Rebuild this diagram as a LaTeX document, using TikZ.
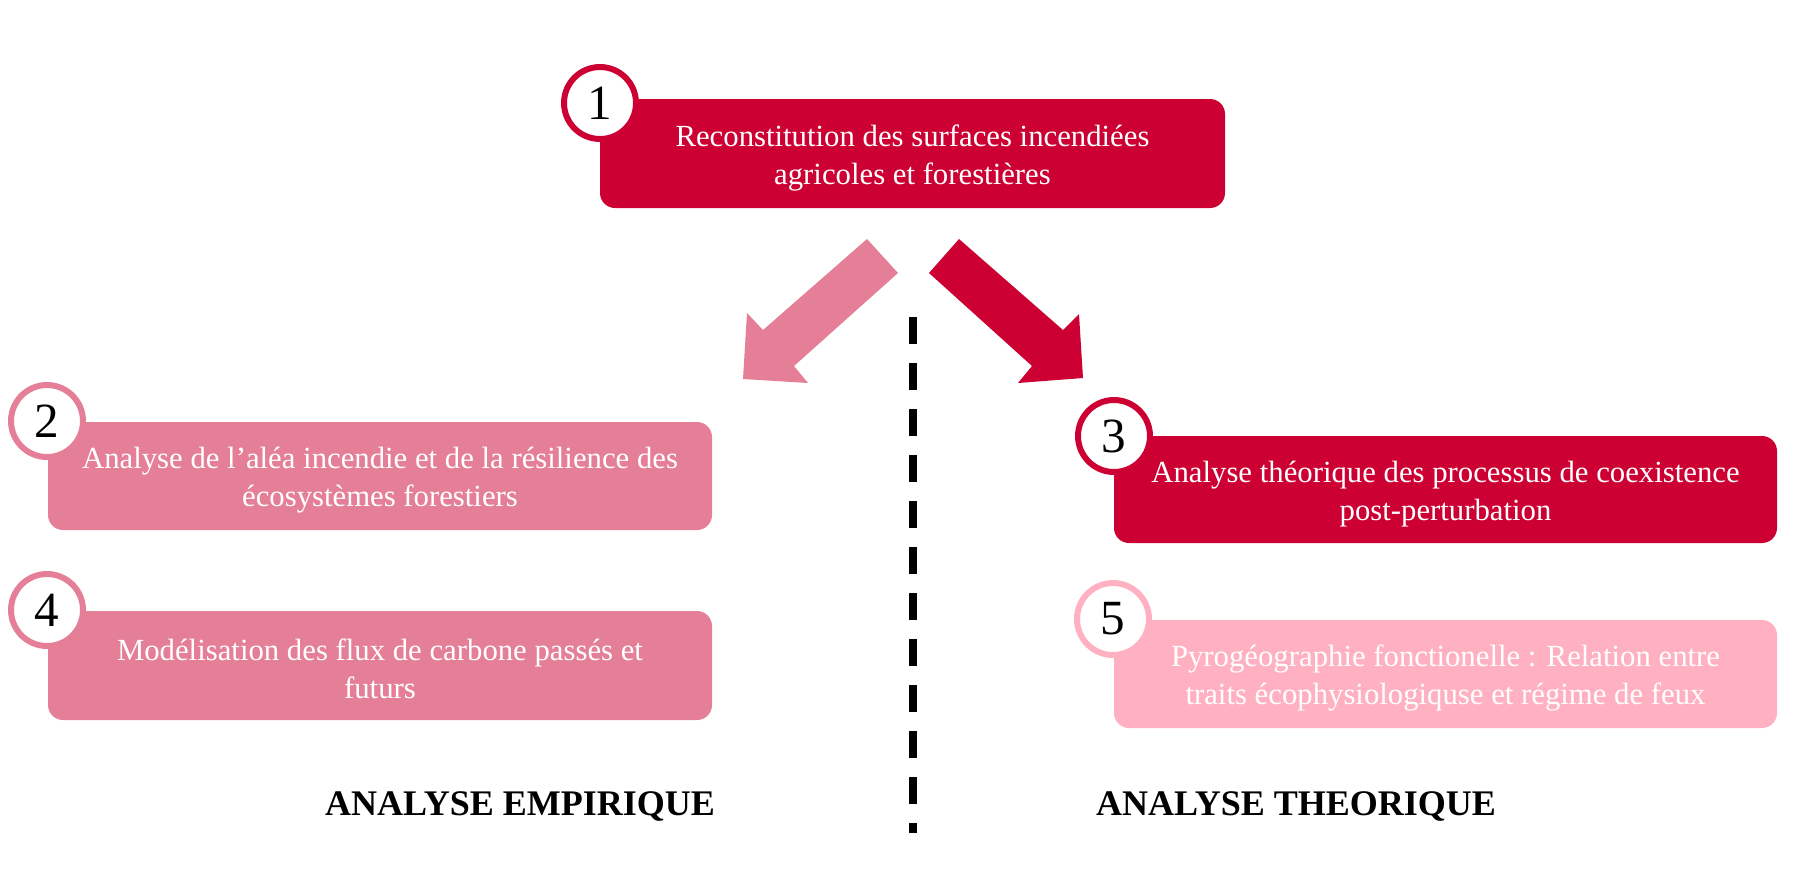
\documentclass[tikz,border=0pt]{standalone}
\usepackage{fontspec}
\setmainfont{Liberation Serif}
\usetikzlibrary{shadows}
\definecolor{crim}{RGB}{204,0,51}
\definecolor{crimdark}{RGB}{165,0,42}
\definecolor{rose}{RGB}{229,127,151}
\definecolor{rosedark}{RGB}{210,88,118}
\definecolor{pale}{RGB}{255,177,193}
\definecolor{paledark}{RGB}{240,148,170}
\tikzset{
  boxtext/.style={align=center,text=white,inner sep=0pt,font=\fontsize{17.5}{21.4}\selectfont},
  numcirc/.style 2 args={circle,draw=#1,line width=3.4pt,fill=white,minimum size=1.44cm,inner sep=0pt,
    font=\fontsize{28}{28}\selectfont,
    drop shadow={fill=#2,opacity=1,shadow xshift=0.035cm,shadow yshift=-0.035cm}},
  headline/.style={inner sep=0pt,font=\fontsize{20.5}{24}\selectfont\bfseries}
}
\begin{document}
\begin{tikzpicture}[x=0.02cm,y=-0.02cm]
\useasboundingbox (0,0) rectangle (1812,890);
\fill [crim,rounded corners=0.3cm] (600,99) rectangle (1225,208);
\fill [rose,rounded corners=0.3cm] (48,422) rectangle (712,530);
\fill [rose,rounded corners=0.3cm] (48,611) rectangle (712,720);
\fill [crim,rounded corners=0.3cm] (1114,436) rectangle (1777,543);
\fill [pale,rounded corners=0.3cm] (1114,620) rectangle (1777,728);
\node [boxtext] (t1) at (912.5,158) {Reconstitution des surfaces incendiées\\agricoles et forestières};
\node [boxtext] (t2) at (380,480) {Analyse de l’aléa incendie et de la résilience des\\écosystèmes forestiers};
\node [boxtext] (t4) at (380,669) {Modélisation des flux de carbone passés et\\futurs};
\node [boxtext] (t3) at (1445.5,494) {Analyse théorique des processus de coexistence\\post-perturbation};
\node [boxtext] (t5) at (1445.5,678) {Pyrogéographie fonctionelle : Relation entre\\traits écophysiologiquse et régime de feux};
\node [numcirc={crim}{crimdark}] (c1) at (600,103) {1};
\node [numcirc={rose}{rosedark}] (c2) at (47,421) {2};
\node [numcirc={crim}{crimdark}] (c3) at (1114,436) {3};
\node [numcirc={rose}{rosedark}] (c4) at (47,610) {4};
\node [numcirc={pale}{paledark}] (c5) at (1113,619) {5};
\fill [rose] (867,239) -- (898,273) -- (794,366) -- (808,383) -- (743,379) -- (747,313) -- (763,330) -- cycle;
\fill [crim] (959,239) -- (929,273) -- (1032,366) -- (1018,383) -- (1083,378) -- (1079,314) -- (1063,330) -- cycle;
\coordinate (sep top) at (913,317);
\coordinate (sep bot) at (913,833);
\draw [line width=4pt,dash pattern=on 15.4pt off 10.8pt] (sep top) -- (sep bot);
\node [headline] (emp) at (520,806) {ANALYSE EMPIRIQUE};
\node [headline] (theo) at (1296,806) {ANALYSE THEORIQUE};
\end{tikzpicture}
\end{document}
